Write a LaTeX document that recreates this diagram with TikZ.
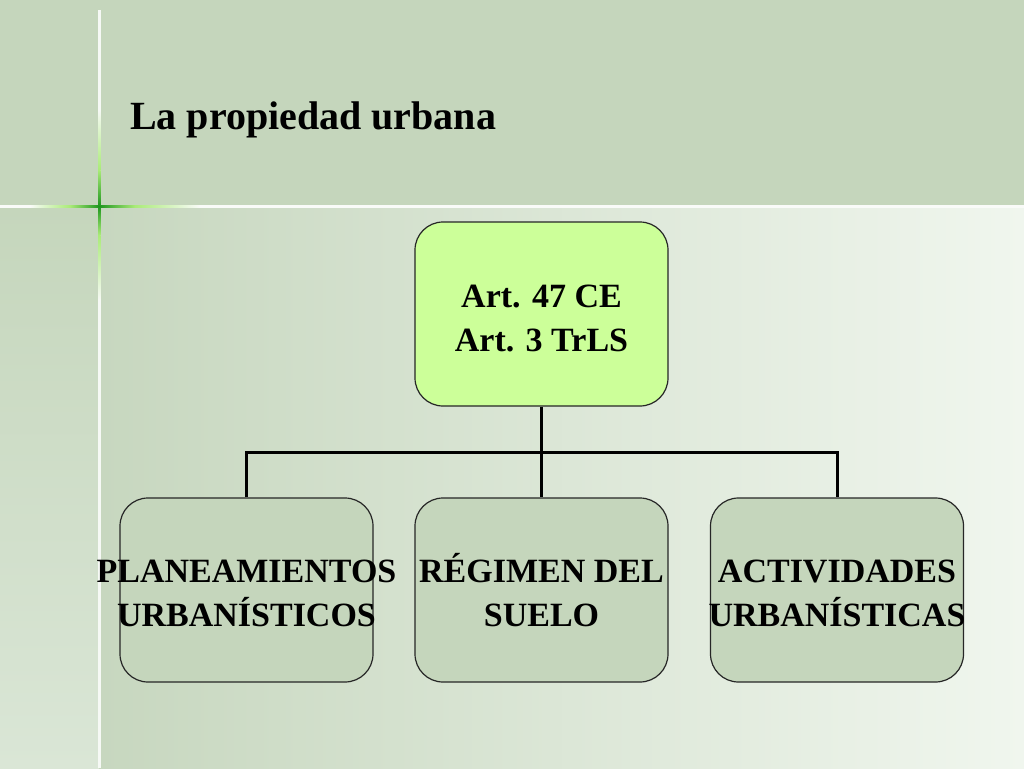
\documentclass[tikz,border=0pt]{standalone}
\usepackage{fontspec}
\setmainfont{Liberation Serif}
\definecolor{bgtop}{RGB}{197,214,188}
\definecolor{mainL}{RGB}{199,215,191}
\definecolor{mainR}{RGB}{240,246,238}
\definecolor{stripB}{RGB}{218,230,214}
\definecolor{topfill}{RGB}{204,255,153}
\definecolor{subfill}{RGB}{197,214,188}
\definecolor{glowD}{RGB}{30,150,30}
\definecolor{glowL}{RGB}{170,235,120}
\newcommand\lblstrut{\rule[-9pt]{0pt}{40pt}}
\begin{document}
\begin{tikzpicture}[x=1pt,y=-1pt,
  box/.style={draw=black!85, line width=1.2pt, rounded corners=28pt, minimum width=253pt, minimum height=184pt, inner sep=0pt},
  topbox/.style={box, fill=topfill},
  subbox/.style={box, fill=subfill},
  lbl/.style={font=\bfseries\fontsize{34}{44.5}\selectfont, align=center, inner sep=0pt},
  conn/.style={line width=3pt, black}]
% background
\fill[bgtop] (0,0) rectangle (1024,206);
\shade[top color=bgtop, bottom color=stripB] (0,206) rectangle (99,768);
\shade[left color=mainL, right color=mainR] (99,206) rectangle (1024,768);
% cross lines
\fill[white!90!bgtop] (0,205) rectangle (1024,207.5);
\fill[white!85!bgtop] (98,10) rectangle (100.5,768);
\shade[left color=white!90!bgtop, right color=glowL] (30,205) rectangle (70,207.5);
\shade[left color=glowL, right color=glowD] (70,205) rectangle (99.2,207.5);
\shade[left color=glowD, right color=glowL] (99.2,205) rectangle (135,207.5);
\shade[left color=glowL, right color=white!90!bgtop] (135,205) rectangle (200,207.5);
\shade[top color=white!85!bgtop, bottom color=glowL] (98,110) rectangle (100.5,170);
\shade[top color=glowL, bottom color=glowD] (98,170) rectangle (100.5,206.2);
\shade[top color=glowD, bottom color=glowL] (98,206.2) rectangle (100.5,235);
\shade[top color=glowL, bottom color=white!85!bgtop] (98,235) rectangle (100.5,300);
% title
\node[anchor=base west, font=\bfseries\fontsize{40}{48}\selectfont, inner sep=0pt] (title) at (130,129) {La propiedad urbana};
% boxes
\node[topbox] (top) at (541.5,314) {};
\node[subbox] (plan) at (246.5,590) {};
\node[subbox] (reg) at (541.5,590) {};
\node[subbox] (act) at (837,590) {};
% labels
\node[lbl] (topl) at (541.5,318.5) {\lblstrut Art. 47 CE\\\lblstrut Art. 3 TrLS};
\node[lbl] (planl) at (246.5,593.5) {\lblstrut PLANEAMIENTOS\\\lblstrut URBANÍSTICOS};
\node[lbl] (regl) at (541.5,593.5) {\lblstrut RÉGIMEN DEL\\\lblstrut SUELO};
\node[lbl] (actl) at (837,593.5) {\lblstrut ACTIVIDADES\\\lblstrut URBANÍSTICAS};
% connectors
\coordinate (bar) at (541.5,452);
\draw[conn] (top.south) -- (bar);
\draw[conn] (plan.north) |- (bar) -| (act.north);
\draw[conn] (bar) -- (reg.north);
\end{tikzpicture}
\end{document}
